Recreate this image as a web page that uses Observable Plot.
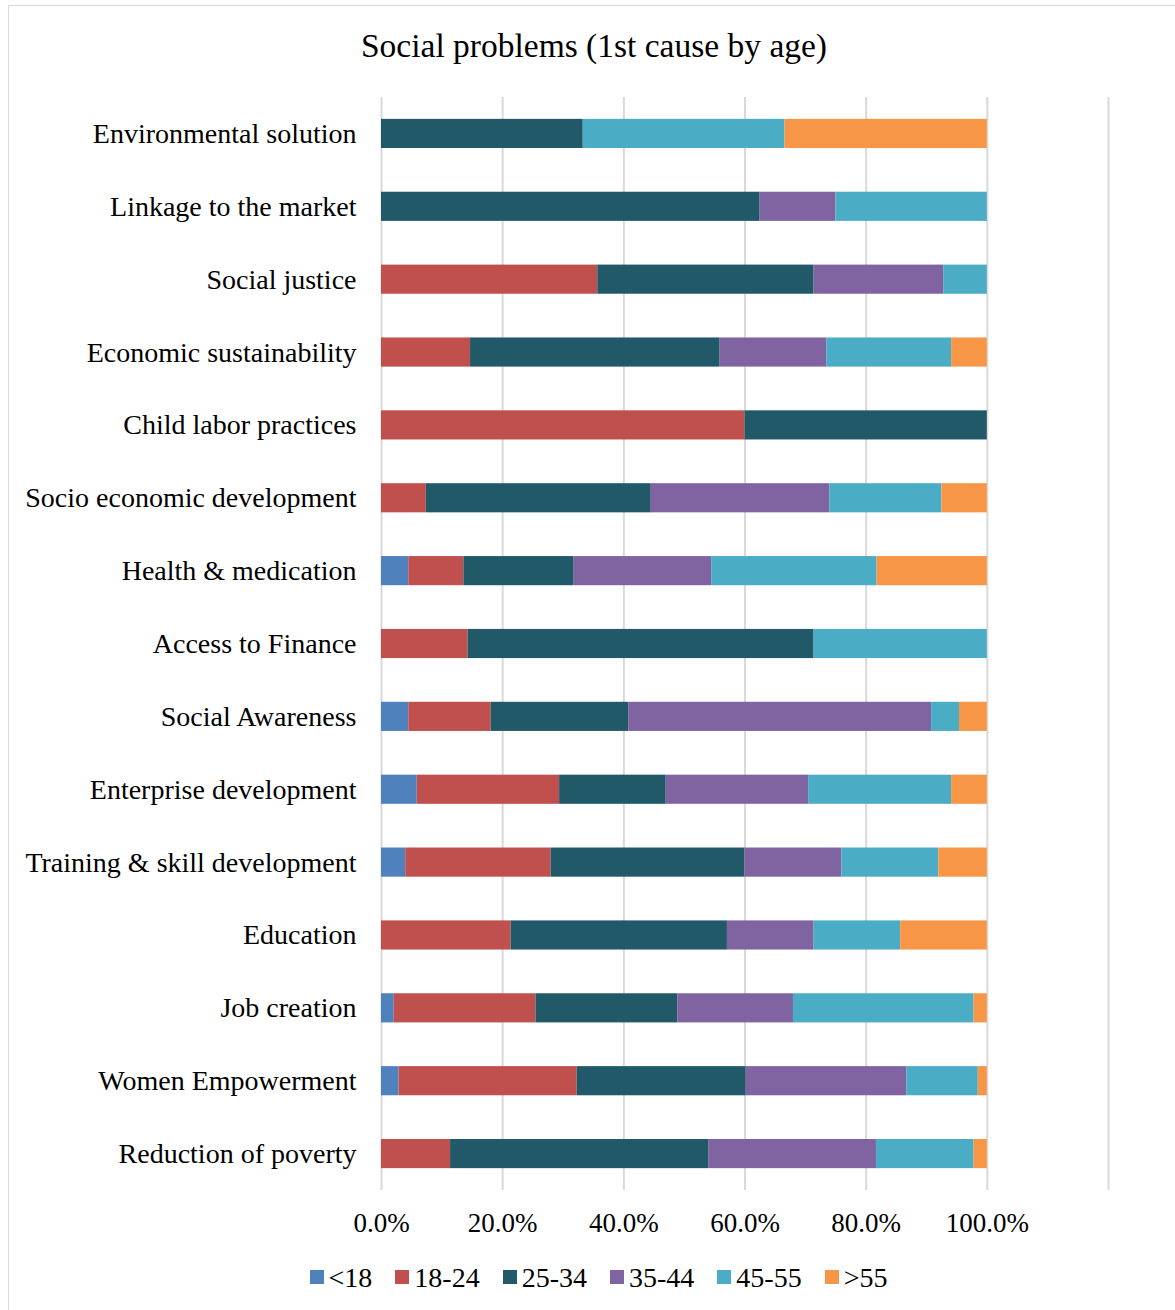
<!DOCTYPE html>
<html>
<head>
<meta charset="utf-8">
<script src="https://cdn.jsdelivr.net/npm/d3@7"></script>
<script src="https://cdn.jsdelivr.net/npm/@observablehq/plot@0.6"></script>
<style>
  html, body { margin: 0; padding: 0; background: #fff; overflow: hidden; }
  body { width: 1175px; height: 1310px; position: relative; font-family: 'Liberation Serif', 'Times New Roman', serif; color: #000; }
  #frame { position: absolute; left: 8px; top: 5px; width: 1175px; height: 1320px; border: 1px solid #d9d9d9; box-sizing: border-box; }
  #title { position: absolute; left: 0; top: 29px; width: 1188px; text-align: center; font-size: 33.5px; line-height: 34px; white-space: nowrap; }
  #chart { position: absolute; left: 0; top: 80px; }
  #legend { position: absolute; left: 0; top: 1264px; width: 1197px; text-align: center; font-size: 28px; line-height: 28px; white-space: nowrap; }
  .item { display: inline-block; margin: 0 11.5px; }
  .sw { display: inline-block; width: 14px; height: 14px; margin-right: 5px; margin-bottom: 3px; vertical-align: baseline; }
</style>
</head>
<body>
<div id="frame"></div>
<div id="title">Social problems (1st cause by age)</div>
<div id="chart"></div>
<div id="legend"></div>
<script>
const categories = [
  "Environmental solution",
  "Linkage to the market",
  "Social justice",
  "Economic sustainability",
  "Child labor practices",
  "Socio economic development",
  "Health & medication",
  "Access to Finance",
  "Social Awareness",
  "Enterprise development",
  "Training & skill development",
  "Education",
  "Job creation",
  "Women Empowerment",
  "Reduction of poverty"
];

const groups = ["<18", "18-24", "25-34", "35-44", "45-55", ">55"];
const groupColors = ["#4f81bd", "#c0504d", "#215968", "#8064a2", "#4bacc6", "#f79646"];

// Percent share of each age group, in category order
const under18 = [0, 0, 0, 0, 0, 0, 4.5, 0, 4.5, 5.9, 4, 0, 2.1, 2.9, 0];
const age18_24 = [0, 0, 35.7, 14.7, 60, 7.4, 9.1, 14.3, 13.6, 23.5, 24, 21.4, 23.4, 29.4, 11.4];
const age25_34 = [33.3, 62.5, 35.7, 41.2, 40, 37.0, 18.2, 57.1, 22.7, 17.6, 32, 35.7, 23.4, 27.9, 42.6];
const age35_44 = [0, 12.5, 21.4, 17.6, 0, 29.6, 22.7, 0, 50.0, 23.5, 16, 14.3, 19.1, 26.5, 27.7];
const age45_55 = [33.3, 25, 7.2, 20.6, 0, 18.5, 27.3, 28.6, 4.6, 23.6, 16, 14.3, 29.8, 11.8, 16.1];
const over55 = [33.4, 0, 0, 5.9, 0, 7.5, 18.2, 0, 4.6, 5.9, 8, 14.3, 2.2, 1.5, 2.2];

const xTicks = [0, 20, 40, 60, 80, 100];
const gridLines = [0, 20, 40, 60, 80, 100, 120];

const series = [under18, age18_24, age25_34, age35_44, age45_55, over55];
const data = categories.flatMap((c, i) =>
  groups.map((g, j) => ({category: c, group: g, value: series[j][i]}))
);

const chart = Plot.plot({
  width: 1175,
  height: 1160,
  marginLeft: 381,
  marginRight: 67,
  marginTop: 17,
  marginBottom: 50,
  style: {
    fontFamily: "'Liberation Serif', 'Times New Roman', serif",
    fontSize: "27px",
    color: "#000",
    background: "transparent",
    overflow: "visible"
  },
  x: {domain: [0, 120], axis: null},
  y: {domain: categories, paddingInner: 0.6, paddingOuter: 0.3, round: false, axis: null},
  color: {domain: groups, range: groupColors},
  marks: [
    Plot.ruleX(gridLines, {stroke: "#d9d9d9", strokeWidth: 2}),
    Plot.barX(data, {x: "value", y: "category", fill: "group"}),
    Plot.axisX({
      ticks: xTicks,
      tickFormat: d => d.toFixed(1) + "%",
      tickSize: 0,
      tickPadding: 22,
      fontSize: 27,
      label: null
    }),
    Plot.axisY({
      tickSize: 0,
      tickPadding: 25,
      fontSize: 28,
      label: null
    })
  ]
});
document.getElementById("chart").appendChild(chart);

const legend = document.getElementById("legend");
groups.forEach((g, i) => {
  const item = document.createElement("span");
  item.className = "item";
  const sw = document.createElement("span");
  sw.className = "sw";
  sw.style.background = groupColors[i];
  item.appendChild(sw);
  item.appendChild(document.createTextNode(g));
  legend.appendChild(item);
});
</script>
</body>
</html>
